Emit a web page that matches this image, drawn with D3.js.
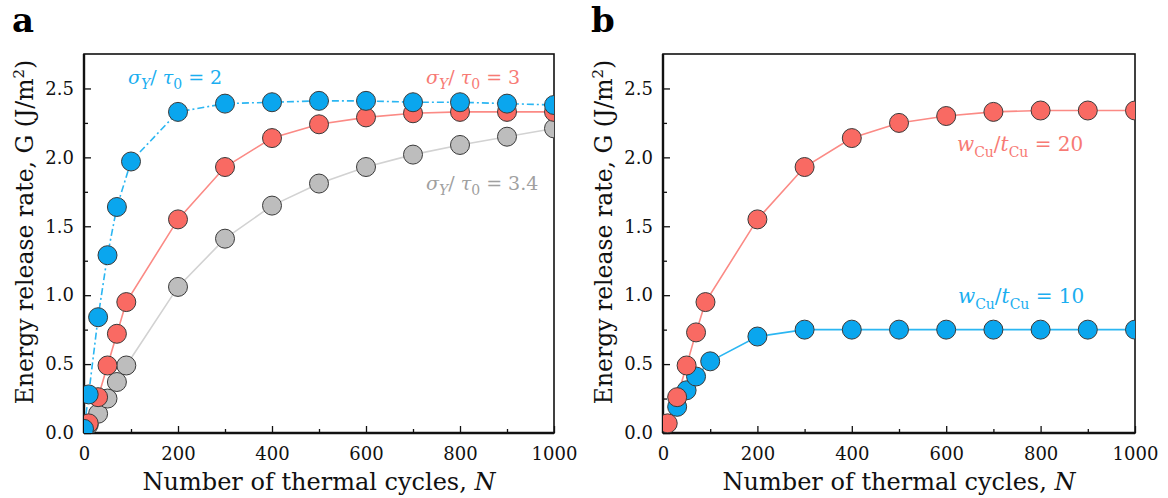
<!DOCTYPE html>
<html>
<head>
<meta charset="utf-8">
<script src="https://cdn.jsdelivr.net/npm/d3@7"></script>
<style>
  body { margin: 0; background: #fff; }
  svg text { font-family: "DejaVu Serif", serif; }
</style>
</head>
<body>
<div id="chart"></div>
<script>
// ---- data ----
var xTicks = [0, 200, 400, 600, 800, 1000];
var xMinor = [100, 300, 500, 700, 900];
var yTicks = [0, 0.5, 1.0, 1.5, 2.0, 2.5];
var yMinor = [0.25, 0.75, 1.25, 1.75, 2.25];

// panel a
var ratio2N = [0, 10, 30, 50, 70, 100, 200, 300, 400, 500, 600, 700, 800, 900, 1000];
var ratio2G = [0.03, 0.28, 0.84, 1.29, 1.64, 1.97, 2.33, 2.39, 2.40, 2.41, 2.41, 2.40, 2.40, 2.39, 2.38];
var ratio3N = [10, 30, 50, 70, 90, 200, 300, 400, 500, 600, 700, 800, 900, 1000];
var ratio3G = [0.07, 0.26, 0.49, 0.72, 0.95, 1.55, 1.93, 2.14, 2.24, 2.29, 2.32, 2.33, 2.33, 2.33];
var ratio34N = [10, 30, 50, 70, 90, 200, 300, 400, 500, 600, 700, 800, 900, 1000];
var ratio34G = [0.06, 0.14, 0.25, 0.37, 0.49, 1.06, 1.41, 1.65, 1.81, 1.93, 2.02, 2.09, 2.15, 2.21];

// panel b
var w20N = [10, 30, 50, 70, 90, 200, 300, 400, 500, 600, 700, 800, 900, 1000];
var w20G = [0.07, 0.26, 0.49, 0.73, 0.95, 1.55, 1.93, 2.14, 2.25, 2.30, 2.33, 2.34, 2.34, 2.34];
var w10N = [30, 50, 70, 100, 200, 300, 400, 500, 600, 700, 800, 900, 1000];
var w10G = [0.19, 0.31, 0.41, 0.52, 0.70, 0.75, 0.75, 0.75, 0.75, 0.75, 0.75, 0.75, 0.75];

var blue = {fill: "#0aa6ee", line: "#2bb6f2", text: "#1aaef0"};
var red = {fill: "#f96a63", line: "#fb8a85", text: "#f77a74"};
var gray = {fill: "#bdbdbd", line: "#d2d2d2", text: "#a0a0a0"};

function zip(ns, gs) { return ns.map(function(n, i) { return {n: n, g: gs[i]}; }); }

var svg = d3.select("#chart").append("svg")
  .attr("width", 1168).attr("height", 498);

function drawPanel(opt) {
  var x = d3.scaleLinear().domain([0, 1000]).range([opt.left, opt.right]);
  var y = d3.scaleLinear().domain([0, 2.75]).range([433, 54]);
  var g = svg.append("g");

  g.append("clipPath").attr("id", "clip" + opt.id)
    .append("rect").attr("x", opt.left).attr("y", 54)
    .attr("width", opt.right - opt.left).attr("height", 433 - 54);

  // ticks (inward)
  g.append("g").attr("transform", "translate(0,433)")
    .call(d3.axisBottom(x).tickValues(xTicks).tickSize(-7).tickPadding(14).tickFormat(d3.format("d")));
  g.append("g").attr("transform", "translate(0,433)")
    .call(d3.axisBottom(x).tickValues(xMinor).tickSize(-4).tickFormat(""));
  g.append("g").attr("transform", "translate(" + opt.left + ",0)")
    .call(d3.axisLeft(y).tickValues(yTicks).tickSize(-7).tickPadding(10).tickFormat(d3.format(".1f")));
  g.append("g").attr("transform", "translate(" + opt.left + ",0)")
    .call(d3.axisLeft(y).tickValues(yMinor).tickSize(-4).tickFormat(""));
  g.selectAll(".domain").remove();
  g.selectAll(".tick line").attr("stroke", "#111").attr("stroke-width", 1.3);
  g.selectAll(".tick text").attr("fill", "#111").style("font-size", "18px")
    .style("font-family", "'DejaVu Serif', serif");

  // frame
  g.append("rect").attr("x", opt.left).attr("y", 54)
    .attr("width", opt.right - opt.left).attr("height", 433 - 54)
    .attr("fill", "none").attr("stroke", "#111").attr("stroke-width", 1.6);
  g.append("line").attr("x1", opt.left).attr("x2", opt.right).attr("y1", 433).attr("y2", 433)
    .attr("stroke", "#111").attr("stroke-width", 2.4);
  g.append("line").attr("x1", opt.left).attr("x2", opt.left).attr("y1", 54).attr("y2", 433)
    .attr("stroke", "#111").attr("stroke-width", 2.4);

  var plot = g.append("g").attr("clip-path", "url(#clip" + opt.id + ")");
  var line = d3.line().x(function(d) { return x(d.n); }).y(function(d) { return y(d.g); });

  opt.series.forEach(function(s) {
    plot.append("path").datum(s.data)
      .attr("d", line).attr("fill", "none")
      .attr("stroke", s.color.line).attr("stroke-width", 1.6)
      .attr("stroke-dasharray", s.dash || null);
  });
  opt.series.forEach(function(s) {
    plot.selectAll(null).data(s.data).enter().append("circle")
      .attr("cx", function(d) { return x(d.n); })
      .attr("cy", function(d) { return y(d.g); })
      .attr("r", 9.5)
      .attr("fill", s.color.fill)
      .attr("stroke", "#3a3a3a").attr("stroke-width", 1);
  });

  // axis titles
  var xt = g.append("text").attr("x", (opt.left + opt.right) / 2).attr("y", 490)
    .attr("text-anchor", "middle").style("font-size", "24px").attr("fill", "#111");
  xt.append("tspan").text("Number of thermal cycles, ");
  xt.append("tspan").style("font-style", "italic").text("N");

  var yt = g.append("text")
    .attr("transform", "translate(" + (opt.left - 51) + ",232) rotate(-90)")
    .attr("text-anchor", "middle").style("font-size", "23.5px").attr("fill", "#111");
  yt.append("tspan").text("Energy release rate, G (J/m");
  yt.append("tspan").attr("dy", -9).style("font-size", "15px").text("2");
  yt.append("tspan").attr("dy", 9).text(")");

  g.append("text").attr("x", opt.left - 72).attr("y", 32)
    .style("font-size", "34px").style("font-weight", "bold").attr("fill", "#000")
    .text(opt.id);

  return g;
}

function sigmaLabel(g, xp, yp, val, color) {
  var t = g.append("text").attr("x", xp).attr("y", yp).attr("fill", color).style("font-size", "19px");
  t.append("tspan").style("font-style", "italic").text("σ");
  t.append("tspan").attr("dy", 5).style("font-style", "italic").style("font-size", "14px").text("Y");
  t.append("tspan").attr("dy", -5).text("/ ");
  t.append("tspan").style("font-style", "italic").text("τ");
  t.append("tspan").attr("dy", 5).style("font-size", "14px").text("0");
  t.append("tspan").attr("dy", -5).text(" = " + val);
}

function wLabel(g, xp, yp, val, color) {
  var t = g.append("text").attr("x", xp).attr("y", yp).attr("fill", color).style("font-size", "20px");
  t.append("tspan").style("font-style", "italic").text("w");
  t.append("tspan").attr("dy", 6).style("font-size", "14px").text("Cu");
  t.append("tspan").attr("dy", -6).text("/");
  t.append("tspan").style("font-style", "italic").text("t");
  t.append("tspan").attr("dy", 6).style("font-size", "14px").text("Cu");
  t.append("tspan").attr("dy", -6).text(" = " + val);
}

var ga = drawPanel({
  id: "a", left: 84, right: 554,
  series: [
    {data: zip(ratio34N, ratio34G), color: gray},
    {data: zip(ratio3N, ratio3G), color: red},
    {data: zip(ratio2N, ratio2G), color: blue, dash: "7,3,2,3"}
  ]
});
sigmaLabel(ga, 128, 84, "2", blue.text);
sigmaLabel(ga, 426, 84, "3", red.text);
sigmaLabel(ga, 426, 190, "3.4", gray.text);

var gb = drawPanel({
  id: "b", left: 663, right: 1135,
  series: [
    {data: zip(w10N, w10G), color: blue},
    {data: zip(w20N, w20G), color: red}
  ]
});
wLabel(gb, 957, 151, "20", red.text);
wLabel(gb, 958, 303, "10", blue.text);
</script>
</body>
</html>
